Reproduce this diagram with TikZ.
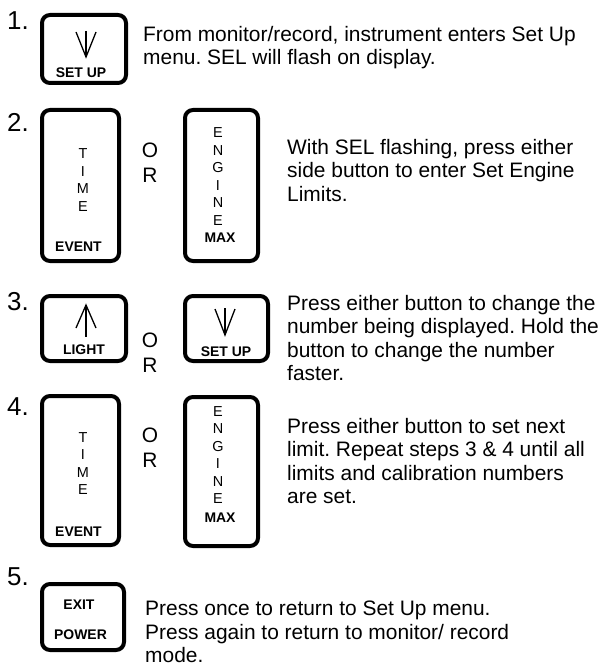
\documentclass[tikz,border=0pt]{standalone}
\usepackage{fontspec}
\setmainfont{Liberation Sans}
\frenchspacing
\usetikzlibrary{positioning}
\tikzstyle{keybox} = [draw, rectangle, line width=4bp, rounded corners=8bp, inner sep=0pt]
\tikzstyle{keylabel} = [inner sep=0pt, font=\fontsize{14}{14}\selectfont\bfseries]
\tikzstyle{sidelabel} = [inner sep=0pt, align=center, font=\fontsize{14.5}{17.5}\selectfont]
\tikzstyle{steptext} = [inner sep=0pt, anchor=north west, align=left, font=\fontsize{21}{23.5}\selectfont]
\tikzstyle{stepnum} = [inner sep=0pt, anchor=west, font=\fontsize{26}{26}\selectfont]
\tikzstyle{ortext} = [inner sep=0pt, align=center, font=\fontsize{21}{25}\selectfont]
\tikzstyle{keyarrow} = [line width=1.3bp]

\begin{document}
\begin{tikzpicture}[x=1bp,y=-1bp]
  \useasboundingbox (0,0) rectangle (608,669);
  % step 1
  \node[stepnum] (num1) at (7,21) {1.};
  \node[keybox, minimum width=84bp, minimum height=68bp] (setupA) at (84,49) {};
  \draw[keyarrow] (86,31) -- (86,57);
  \draw[keyarrow] (76,32) -- (86,57) -- (96,32);
  \node[keylabel] at (81,73) {SET UP};
  \node[steptext] (text1) at (143,26) {From monitor/record, instrument enters Set Up\\menu. SEL will flash on display.};
  % step 2
  \node[stepnum] (num2) at (7,122) {2.};
  \node[keybox, minimum width=77bp, minimum height=151bp] (timeA) at (80.5,185.5) {};
  \node[sidelabel] at (83,180) {T\\I\\M\\E};
  \node[keylabel] at (78.5,247) {EVENT};
  \node[ortext] (orA) at (150,163) {O\\R};
  \node[keybox, minimum width=73bp, minimum height=151bp] (engineA) at (221.5,185.5) {};
  \node[sidelabel] at (218,176.5) {E\\N\\G\\I\\N\\E};
  \node[keylabel] at (220,238) {MAX};
  \node[steptext] (text2) at (287,139) {With SEL flashing, press either\\side button to enter Set Engine\\Limits.};
  % step 3
  \node[stepnum] (num3) at (7,302) {3.};
  \node[keybox, minimum width=84bp, minimum height=65bp] (light) at (84,328.5) {};
  \draw[keyarrow] (86,305) -- (86,337);
  \draw[keyarrow] (76,328) -- (86,305) -- (96,328);
  \node[keylabel] at (84,350) {LIGHT};
  \node[ortext] (orB) at (150,352.5) {O\\R};
  \node[keybox, minimum width=83bp, minimum height=65bp] (setupB) at (226.5,328.5) {};
  \draw[keyarrow] (225,308) -- (225,335);
  \draw[keyarrow] (215,309) -- (225,335) -- (235,309);
  \node[keylabel] at (226,352) {SET UP};
  \node[steptext] (text3) at (287,295) {Press either button to change the\\number being displayed. Hold the\\button to change the number\\faster.};
  % step 4
  \node[stepnum] (num4) at (7,407) {4.};
  \node[keybox, minimum width=77bp, minimum height=149bp] (timeB) at (80.5,470.5) {};
  \node[sidelabel] at (83,463.5) {T\\I\\M\\E};
  \node[keylabel] at (78.5,532) {EVENT};
  \node[ortext] (orC) at (150,447.5) {O\\R};
  \node[keybox, minimum width=73bp, minimum height=149bp] (engineB) at (221.5,471.5) {};
  \node[sidelabel] at (218,455) {E\\N\\G\\I\\N\\E};
  \node[keylabel] at (220,518) {MAX};
  \node[steptext] (text4) at (287,418) {Press either button to set next\\limit. Repeat steps 3 \& 4 until all\\limits and calibration numbers\\are set.};
  % step 5
  \node[stepnum] (num5) at (7,577) {5.};
  \node[keybox, minimum width=82bp, minimum height=66bp] (power) at (83,617) {};
  \node[keylabel] at (79,605) {EXIT};
  \node[keylabel] at (80.5,635) {POWER};
  \node[steptext] (text5) at (145,601) {Press once to return to Set Up menu.\\Press again to return to monitor/ record\\mode.};
\end{tikzpicture}
\end{document}
